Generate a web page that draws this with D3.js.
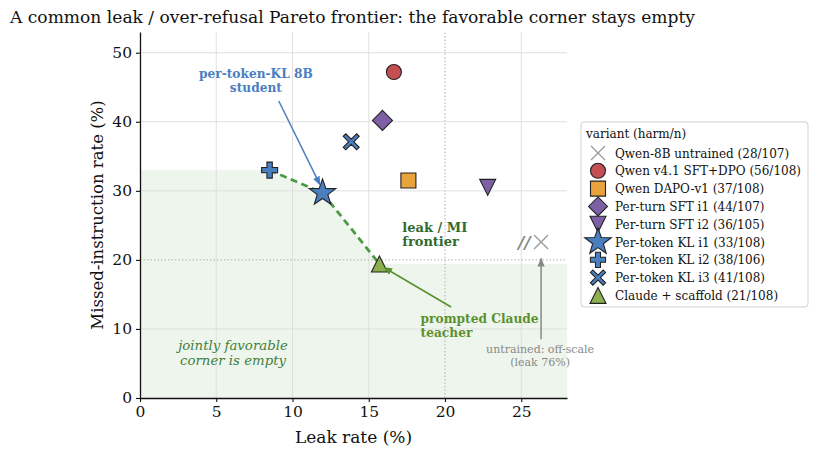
<!DOCTYPE html>
<html>
<head>
<meta charset="utf-8">
<script src="https://cdn.jsdelivr.net/npm/d3@7"></script>
<style>
  body { margin: 0; background: #fff; }
  svg text { font-family: "DejaVu Serif", serif; }
</style>
</head>
<body>
<div id="chart"></div>
<script>
// variants, in legend order
var variants = ["Qwen-8B untrained (28/107)", "Qwen v4.1 SFT+DPO (56/108)", "Qwen DAPO-v1 (37/108)",
  "Per-turn SFT i1 (44/107)", "Per-turn SFT i2 (36/105)", "Per-token KL i1 (33/108)",
  "Per-token KL i2 (38/106)", "Per-token KL i3 (41/108)", "Claude + scaffold (21/108)"];
var shapes = ["x", "circle", "square", "diamond", "tridown", "star", "plus", "cross", "triup"];
var colors = ["#9a9a9a", "#c44e52", "#e8a33d", "#7d5fa6", "#7d5fa6", "#4a7ebf", "#4a7ebf", "#4a7ebf", "#8cb04e"];
// leak %, missed-instruction % (untrained is off-scale, drawn separately)
var leak = [null, 16.65, 17.6, 15.9, 22.8, 11.97, 8.5, 13.85, 15.7];
var missed = [null, 47.2, 31.5, 40.2, 30.5, 29.7, 33.0, 37.1, 19.4];

var frontierIdx = [6, 5, 8];   // plus -> star -> triangle
var xTicks = [0, 5, 10, 15, 20, 25];
var yTicks = [0, 10, 20, 30, 40, 50];

var W = 818, H = 456;
var margin = {left: 140, right: 251, top: 32, bottom: 58};
var svg = d3.select("#chart").append("svg").attr("width", W).attr("height", H);

var x = d3.scaleLinear().domain([0, 28]).range([margin.left, W - margin.right]);
var y = d3.scaleLinear().domain([0, 53]).range([H - margin.bottom, margin.top]);

svg.append("defs").selectAll("marker")
  .data([["blueHead", "#4a7ebf"], ["greenHead", "#5a9130"], ["grayHead", "#888"]])
  .enter().append("marker")
  .attr("id", function(d) { return d[0]; })
  .attr("viewBox", "0 0 10 10").attr("refX", 9).attr("refY", 5)
  .attr("markerWidth", 9).attr("markerHeight", 9).attr("markerUnits", "userSpaceOnUse")
  .attr("orient", "auto")
  .append("path").attr("d", "M0,1 L10,5 L0,9 Z").attr("fill", function(d) { return d[1]; });

// title
svg.append("text").attr("x", 10).attr("y", 23).attr("font-size", 17.1).attr("fill", "#111")
  .text("A common leak / over-refusal Pareto frontier: the favorable corner stays empty");

// frontier line + shaded region under it
var fpts = frontierIdx.map(function(i) { return [leak[i], missed[i]]; });
var line = d3.line().x(function(d) { return x(d[0]); }).y(function(d) { return y(d[1]); });
var fPath = line(fpts);
var first = fpts[0], last = fpts[fpts.length - 1];
var fillPath = "M" + x(0) + "," + y(0) + "L" + x(0) + "," + y(first[1]) + fPath.replace(/^M/, "L") +
  "L" + x(28) + "," + y(last[1]) + "L" + x(28) + "," + y(0) + "Z";
svg.append("path").attr("d", fillPath).attr("fill", "#eef5ec");

// grid
svg.append("g").selectAll("line").data(xTicks.slice(1)).enter().append("line")
  .attr("x1", function(d) { return x(d); }).attr("x2", function(d) { return x(d); })
  .attr("y1", y(0)).attr("y2", y(53))
  .attr("stroke", function(d) { return d == 20 ? "#b0b0b0" : "#dcdcdc"; })
  .attr("stroke-width", function(d) { return d == 20 ? 1 : 0.9; })
  .attr("stroke-dasharray", function(d) { return d == 20 ? "1.5,2" : null; });
svg.append("g").selectAll("line").data(yTicks.slice(1)).enter().append("line")
  .attr("x1", x(0)).attr("x2", x(28))
  .attr("y1", function(d) { return y(d); }).attr("y2", function(d) { return y(d); })
  .attr("stroke", function(d) { return d == 20 ? "#b0b0b0" : "#dcdcdc"; })
  .attr("stroke-width", function(d) { return d == 20 ? 1 : 0.9; })
  .attr("stroke-dasharray", function(d) { return d == 20 ? "1.5,2" : null; });

// axes
var xAxis = svg.append("g").attr("transform", "translate(0," + y(0) + ")")
  .call(d3.axisBottom(x).tickValues(xTicks).tickSize(4).tickPadding(4).tickSizeOuter(0));
var yAxis = svg.append("g").attr("transform", "translate(" + x(0) + ",0)")
  .call(d3.axisLeft(y).tickValues(yTicks).tickSize(4).tickPadding(4).tickSizeOuter(0));
[xAxis, yAxis].forEach(function(a) {
  a.selectAll("text").attr("font-size", 15.5).attr("fill", "#111").attr("font-family", "DejaVu Serif, serif");
  a.select(".domain").attr("stroke", "#111").attr("stroke-width", 1.3);
  a.selectAll(".tick line").attr("stroke", "#111").attr("stroke-width", 1.1);
});
svg.append("text").attr("x", (x(0) + x(28)) / 2).attr("y", 443).attr("text-anchor", "middle")
  .attr("font-size", 17).attr("fill", "#111").text("Leak rate (%)");
svg.append("text").attr("transform", "translate(103," + y(26.5) + ") rotate(-90)")
  .attr("text-anchor", "middle").attr("font-size", 16.5).attr("fill", "#111")
  .text("Missed-instruction rate (%)");

// frontier dashed line
svg.append("path").attr("d", fPath).attr("fill", "none").attr("stroke", "#4c9a48")
  .attr("stroke-width", 2.8).attr("stroke-dasharray", "7,4.5");

// marker shapes
function shapePath(s, r) {
  if (s == "circle") return d3.symbol(d3.symbolCircle, Math.PI * r * r)();
  if (s == "square") return "M" + (-r) + "," + (-r) + "h" + 2 * r + "v" + 2 * r + "h" + (-2 * r) + "Z";
  if (s == "diamond") return "M0," + (-r) + "L" + r + ",0L0," + r + "L" + (-r) + ",0Z";
  if (s == "tridown") return "M" + (-r) + "," + (-r) + "L" + r + "," + (-r) + "L0," + r + "Z";
  if (s == "triup") return "M" + (-r) + "," + r + "L" + r + "," + r + "L0," + (-r) + "Z";
  if (s == "star") {
    var p = [];
    for (var k = 0; k < 10; k++) {
      var rr = k % 2 == 0 ? r : r * 0.4;
      var a = -Math.PI / 2 + k * Math.PI / 5;
      p.push([rr * Math.cos(a), rr * Math.sin(a)]);
    }
    return "M" + p.join("L") + "Z";
  }
  if (s == "plus") {
    var t = r / 3;
    return "M" + (-t) + "," + (-r) + "h" + 2 * t + "v" + (r - t) + "h" + (r - t) + "v" + 2 * t + "h" + (t - r) +
      "v" + (r - t) + "h" + (-2 * t) + "v" + (t - r) + "h" + (t - r) + "v" + (-2 * t) + "h" + (r - t) + "Z";
  }
  if (s == "cross") {
    var q = [], w = r * 0.32;
    var base = [[w, 0], [r, r - w], [r - w, r], [0, w]];
    for (var j = 0; j < 4; j++) {
      var ang = j * Math.PI / 2;
      base.forEach(function(b) {
        q.push([b[0] * Math.cos(ang) - b[1] * Math.sin(ang), b[0] * Math.sin(ang) + b[1] * Math.cos(ang)]);
      });
    }
    return "M" + q.join("L") + "Z";
  }
  if (s == "x") return "M" + (-r) + "," + (-r) + "L" + r + "," + r + "M" + r + "," + (-r) + "L" + (-r) + "," + r;
}
var sizes = {x: 7, circle: 7.5, square: 7.5, diamond: 10, tridown: 8, star: 14, plus: 8, cross: 8, triup: 8};

function drawMarker(g, i, cx, cy) {
  var s = shapes[i];
  var el = g.append("path").attr("d", shapePath(s, sizes[s]))
    .attr("transform", "translate(" + cx + "," + cy + ")");
  if (s == "x") el.attr("fill", "none").attr("stroke", colors[i]).attr("stroke-width", 1.3);
  else el.attr("fill", colors[i]).attr("stroke", "#222").attr("stroke-width", 1.1)
    .attr("stroke-linejoin", "miter");
}

var pts = svg.append("g");
leak.forEach(function(v, i) {
  if (v == null) return;
  drawMarker(pts, i, x(v), y(missed[i]));
});

// untrained off-scale marker
svg.append("text").attr("x", x(25.2)).attr("y", y(22.6) + 6).attr("text-anchor", "middle")
  .attr("font-size", 17).attr("font-style", "italic").attr("font-weight", "bold").attr("fill", "#888").text("//");
drawMarker(svg, 0, x(26.3), y(22.6));
svg.append("line").attr("x1", x(26.3)).attr("x2", x(26.3)).attr("y1", y(8.5)).attr("y2", y(20.2))
  .attr("stroke", "#888").attr("stroke-width", 1.5).attr("marker-end", "url(#grayHead)");
svg.append("text").attr("x", x(26.3) - 1).attr("y", 353).attr("text-anchor", "middle")
  .attr("font-size", 11).attr("fill", "#888")
  .selectAll("tspan").data(["untrained: off-scale", "(leak 76%)"]).enter().append("tspan")
  .attr("x", x(26.3) - 1).attr("dy", function(d, k) { return k ? 13 : 0; }).text(function(d) { return d; });

// annotations
function multiText(tx, ty, lines, opts) {
  var t = svg.append("text").attr("x", tx).attr("y", ty).attr("text-anchor", opts.anchor)
    .attr("font-size", opts.size).attr("fill", opts.color)
    .attr("font-weight", opts.bold ? "bold" : null).attr("font-style", opts.italic ? "italic" : null);
  t.selectAll("tspan").data(lines).enter().append("tspan").attr("x", tx)
    .attr("dy", function(d, k) { return k ? opts.lh : 0; }).text(function(d) { return d; });
}
multiText(x(7.6), 78, ["per-token-KL 8B", "student"], {anchor: "middle", size: 12.2, color: "#4a7ebf", bold: true, lh: 14});
svg.append("line").attr("x1", x(9.1)).attr("y1", 101).attr("x2", x(11.8)).attr("y2", y(30.9))
  .attr("stroke", "#4a7ebf").attr("stroke-width", 1.5).attr("marker-end", "url(#blueHead)");

multiText(x(17.2), 232, ["leak / MI", "frontier"], {anchor: "start", size: 13, color: "#2f6b2c", bold: true, lh: 14});

multiText(x(18.4), 323, ["prompted Claude", "teacher"], {anchor: "start", size: 12.2, color: "#5a9130", bold: true, lh: 13.5});
svg.append("line").attr("x1", x(20.4)).attr("y1", 307).attr("x2", x(16.0)).attr("y2", y(18.9))
  .attr("stroke", "#5a9130").attr("stroke-width", 1.6).attr("marker-end", "url(#greenHead)");

multiText(x(6.1), 350, ["jointly favorable", "corner is empty"], {anchor: "middle", size: 13.3, color: "#3f7f3c", italic: true, lh: 15});

// legend
var lg = svg.append("g").attr("transform", "translate(581,122)");
lg.append("rect").attr("width", 227).attr("height", 185).attr("rx", 3)
  .attr("fill", "#fff").attr("stroke", "#cfcfcf");
lg.append("text").attr("x", 5).attr("y", 16).attr("font-size", 12).attr("fill", "#111").text("variant (harm/n)");
variants.forEach(function(v, i) {
  var cy = 31 + i * 17.8;
  var s = shapes[i];
  var g = lg.append("g");
  var scl = {x: 1, circle: 1, square: 1, diamond: 0.95, tridown: 1, star: 1, plus: 0.95, cross: 0.95, triup: 1}[s];
  var gg = g.append("g").attr("transform", "translate(17," + cy + ") scale(" + scl + ")");
  drawMarker(gg, i, 0, 0);
  lg.append("text").attr("x", 34).attr("y", cy + 4.5).attr("font-size", 12).attr("fill", "#111").text(v);
});
</script>
</body>
</html>
